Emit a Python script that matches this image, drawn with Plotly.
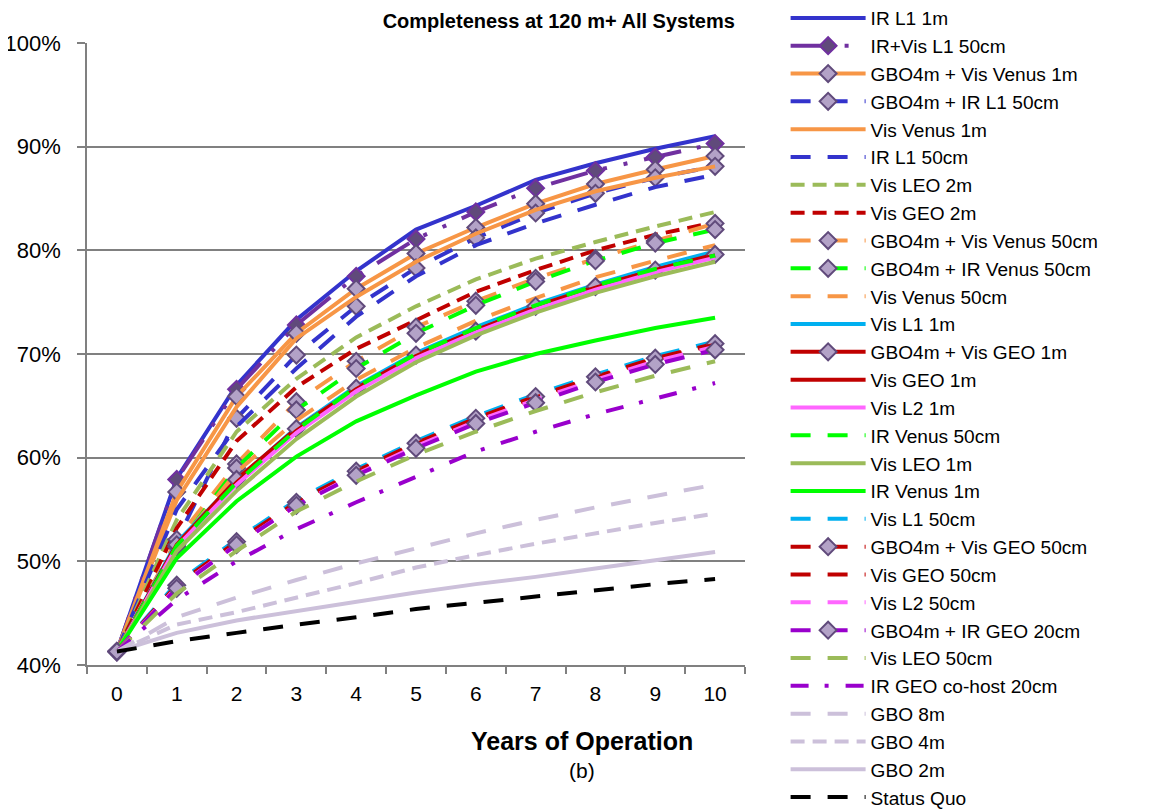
import plotly.graph_objects as go

years = [str(i) for i in range(11)]

# completeness (%), one list per system
ir_l1_1m = [41.3, 58.0, 67.0, 73.3, 78.0, 82.0, 84.3, 86.8, 88.4, 89.8, 91.0]
irvis_l1_50 = [41.3, 57.9, 66.6, 72.8, 77.5, 81.1, 83.7, 86.0, 87.7, 89.0, 90.3]
gbo_vis_venus_1m = [41.3, 56.7, 65.9, 72.0, 76.3, 79.7, 82.2, 84.5, 86.4, 87.8, 89.1]
gbo_ir_l1_50 = [41.3, 52.0, 63.8, 69.9, 74.6, 78.3, 81.2, 83.6, 85.5, 87.0, 88.1]
vis_venus_1m = [41.3, 55.9, 64.9, 71.5, 75.5, 78.9, 81.6, 83.9, 85.7, 87.0, 88.1]
ir_l1_50 = [41.3, 55.0, 63.0, 68.6, 73.6, 77.5, 80.5, 82.6, 84.4, 86.1, 87.3]
vis_leo_2m = [41.3, 54.0, 62.5, 67.6, 71.6, 74.6, 77.2, 79.2, 80.8, 82.3, 83.7]
vis_geo_2m = [41.3, 53.2, 61.6, 66.8, 70.5, 73.3, 76.0, 78.1, 80.0, 81.5, 82.7]
gbo_vis_venus_50 = [41.3, 52.1, 59.4, 65.4, 69.3, 72.6, 75.1, 77.3, 79.2, 80.9, 82.6]
gbo_ir_venus_50 = [41.3, 51.4, 59.0, 64.6, 68.6, 72.0, 74.7, 77.0, 79.0, 80.7, 82.0]
vis_venus_50 = [41.3, 51.5, 58.6, 63.6, 67.5, 70.6, 73.2, 75.4, 77.4, 79.0, 80.5]
vis_l1_1m = [41.3, 51.8, 57.8, 62.9, 66.9, 70.1, 72.6, 74.8, 76.7, 78.4, 79.9]
gbo_vis_geo_1m = [41.3, 51.6, 57.9, 62.8, 66.7, 69.9, 72.2, 74.6, 76.5, 78.1, 79.6]
vis_geo_1m = [41.3, 51.6, 57.6, 62.6, 66.6, 69.8, 72.3, 74.5, 76.4, 78.1, 79.5]
vis_l2_1m = [41.3, 51.4, 57.4, 62.4, 66.4, 69.6, 72.1, 74.3, 76.2, 77.9, 79.3]
ir_venus_50 = [41.3, 51.5, 57.6, 62.7, 66.8, 70.0, 72.5, 74.7, 76.6, 78.2, 79.5]
vis_leo_1m = [41.3, 51.0, 56.8, 61.8, 65.9, 69.2, 71.8, 74.0, 75.9, 77.5, 78.9]
ir_venus_1m = [41.3, 50.3, 55.8, 60.1, 63.5, 66.0, 68.3, 70.0, 71.3, 72.5, 73.5]
vis_l1_50 = [41.3, 47.9, 52.1, 55.9, 58.9, 61.6, 64.0, 66.1, 68.0, 69.8, 71.2]
gbo_vis_geo_50 = [41.3, 47.7, 51.9, 55.7, 58.7, 61.4, 63.8, 65.9, 67.8, 69.6, 71.0]
vis_geo_50 = [41.3, 47.6, 51.8, 55.6, 58.6, 61.3, 63.7, 65.8, 67.7, 69.5, 70.9]
vis_l2_50 = [41.3, 47.5, 51.6, 55.4, 58.4, 61.1, 63.5, 65.6, 67.5, 69.3, 70.7]
gbo_ir_geo_20 = [41.3, 47.4, 51.6, 55.4, 58.3, 60.9, 63.3, 65.3, 67.3, 69.0, 70.4]
vis_leo_50 = [41.3, 46.9, 51.0, 54.8, 57.7, 60.3, 62.5, 64.5, 66.3, 67.9, 69.3]
ir_geo_cohost_20 = [41.3, 46.3, 50.0, 53.1, 55.7, 58.2, 60.6, 62.5, 64.2, 65.7, 67.2]
gbo_8m = [41.3, 44.6, 46.5, 48.2, 49.8, 51.3, 52.7, 54.0, 55.2, 56.3, 57.4]
gbo_4m = [41.3, 43.9, 45.1, 46.5, 47.9, 49.4, 50.6, 51.7, 52.7, 53.7, 54.6]
gbo_2m = [41.3, 43.1, 44.3, 45.2, 46.1, 47.0, 47.8, 48.5, 49.3, 50.1, 50.9]
status_quo = [41.3, 42.3, 43.1, 43.9, 44.6, 45.4, 46.0, 46.6, 47.2, 47.8, 48.3]

BLUE = "#3333CC"
PURPLE = "#7030A0"
ORANGE = "#F79646"
OLIVE = "#9BBB59"
RED = "#C00000"
LIME = "#00FF00"
CYAN = "#00B0F0"
PINK = "#FF66FF"
VIOLET = "#9900CC"
LILAC = "#CCC0DA"

SOLID = "solid"
LONG = "20px,17px"
SHORT = "14px,8px"
DASHDOTDOT = "38px,16px,4px,17px,4px,17px"
DASHDOT = "18px,16px,4px,17px"

# name, values, colour, dash, marker (None / "light" / "dark")
series = [
    ("IR L1 1m", ir_l1_1m, BLUE, SOLID, None),
    ("IR+Vis L1 50cm", irvis_l1_50, PURPLE, DASHDOTDOT, "dark"),
    ("GBO4m + Vis Venus 1m", gbo_vis_venus_1m, ORANGE, SOLID, "light"),
    ("GBO4m + IR L1 50cm", gbo_ir_l1_50, BLUE, LONG, "light"),
    ("Vis Venus 1m", vis_venus_1m, ORANGE, SOLID, None),
    ("IR L1 50cm", ir_l1_50, BLUE, LONG, None),
    ("Vis LEO 2m", vis_leo_2m, OLIVE, SHORT, None),
    ("Vis GEO 2m", vis_geo_2m, RED, SHORT, None),
    ("GBO4m + Vis Venus 50cm", gbo_vis_venus_50, ORANGE, LONG, "light"),
    ("GBO4m + IR Venus 50cm", gbo_ir_venus_50, LIME, LONG, "light"),
    ("Vis Venus 50cm", vis_venus_50, ORANGE, LONG, None),
    ("Vis L1 1m", vis_l1_1m, CYAN, SOLID, None),
    ("GBO4m + Vis GEO 1m", gbo_vis_geo_1m, RED, SOLID, "light"),
    ("Vis GEO 1m", vis_geo_1m, RED, SOLID, None),
    ("Vis L2 1m", vis_l2_1m, PINK, SOLID, None),
    ("IR Venus 50cm", ir_venus_50, LIME, LONG, None),
    ("Vis LEO 1m", vis_leo_1m, OLIVE, SOLID, None),
    ("IR Venus 1m", ir_venus_1m, LIME, SOLID, None),
    ("Vis L1 50cm", vis_l1_50, CYAN, LONG, None),
    ("GBO4m + Vis GEO 50cm", gbo_vis_geo_50, RED, LONG, "light"),
    ("Vis GEO 50cm", vis_geo_50, RED, LONG, None),
    ("Vis L2 50cm", vis_l2_50, PINK, LONG, None),
    ("GBO4m + IR GEO 20cm", gbo_ir_geo_20, VIOLET, LONG, "light"),
    ("Vis LEO 50cm", vis_leo_50, OLIVE, LONG, None),
    ("IR GEO co-host 20cm", ir_geo_cohost_20, VIOLET, DASHDOT, None),
    ("GBO 8m", gbo_8m, LILAC, LONG, None),
    ("GBO 4m", gbo_4m, LILAC, SHORT, None),
    ("GBO 2m", gbo_2m, LILAC, SOLID, None),
    ("Status Quo", status_quo, "black", LONG, None),
]

fig = go.Figure()
for name, vals, color, dash, mk in series:
    if mk is None:
        fig.add_scatter(x=years, y=vals, name=name, mode="lines",
                        line=dict(color=color, width=4, dash=dash))
    else:
        fill = "#604A7B" if mk == "dark" else "#B3A2C7"
        edge = PURPLE if mk == "dark" else "#604A7B"
        fig.add_scatter(x=years, y=vals, name=name, mode="lines+markers",
                        line=dict(color=color, width=4, dash=dash),
                        marker=dict(symbol="diamond", size=13, color=fill,
                                    line=dict(color=edge, width=2)))

# the page body adds an 8px offset, so the figure is 8px smaller each way
fig.update_layout(
    width=1157, height=801,
    margin=dict(l=79, r=420, t=35, b=144, autoexpand=False),
    plot_bgcolor="white", paper_bgcolor="white",
    font=dict(family="Liberation Sans, Arial", size=20, color="black"),
    title=dict(text="<b>Completeness at 120 m+ All Systems</b>", x=0.476, xanchor="center",
               y=0.993, yanchor="top", yref="container", pad=dict(t=0),
               font=dict(size=20)),
    legend=dict(x=1.0617, xanchor="left", y=1.0708, yanchor="top", yref="paper",
                maxheight=900, font=dict(size=19.1), itemwidth=75,
                bgcolor="rgba(0,0,0,0)", tracegroupgap=0),
    showlegend=True,
)
fig.update_xaxes(type="category", range=[-0.5, 10.5], tickson="boundaries",
                 ticks="outside", ticklen=7, tickcolor="#808080", tickwidth=1.5,
                 showline=True, linecolor="#808080", linewidth=1.5, showgrid=False,
                 ticklabelstandoff=9, tickfont=dict(size=21))
fig.update_yaxes(range=[40, 100], dtick=10, ticksuffix="%", ticks="outside", ticklen=8,
                 tickcolor="#808080", tickwidth=1.5, showline=True, linecolor="#808080",
                 linewidth=1.5, showgrid=True, gridcolor="#808080", gridwidth=1.5,
                 zeroline=False, ticklabelstandoff=12, tickfont=dict(size=22))

fig.add_annotation(text="<b>Years of Operation</b>", xref="paper", yref="paper",
                   x=0.752, y=-0.122, xanchor="center", yanchor="middle",
                   showarrow=False, font=dict(size=25))
fig.add_annotation(text="(b)", xref="paper", yref="paper",
                   x=0.752, y=-0.170, xanchor="center", yanchor="middle",
                   showarrow=False, font=dict(size=21))

fig.write_html("out.html")
